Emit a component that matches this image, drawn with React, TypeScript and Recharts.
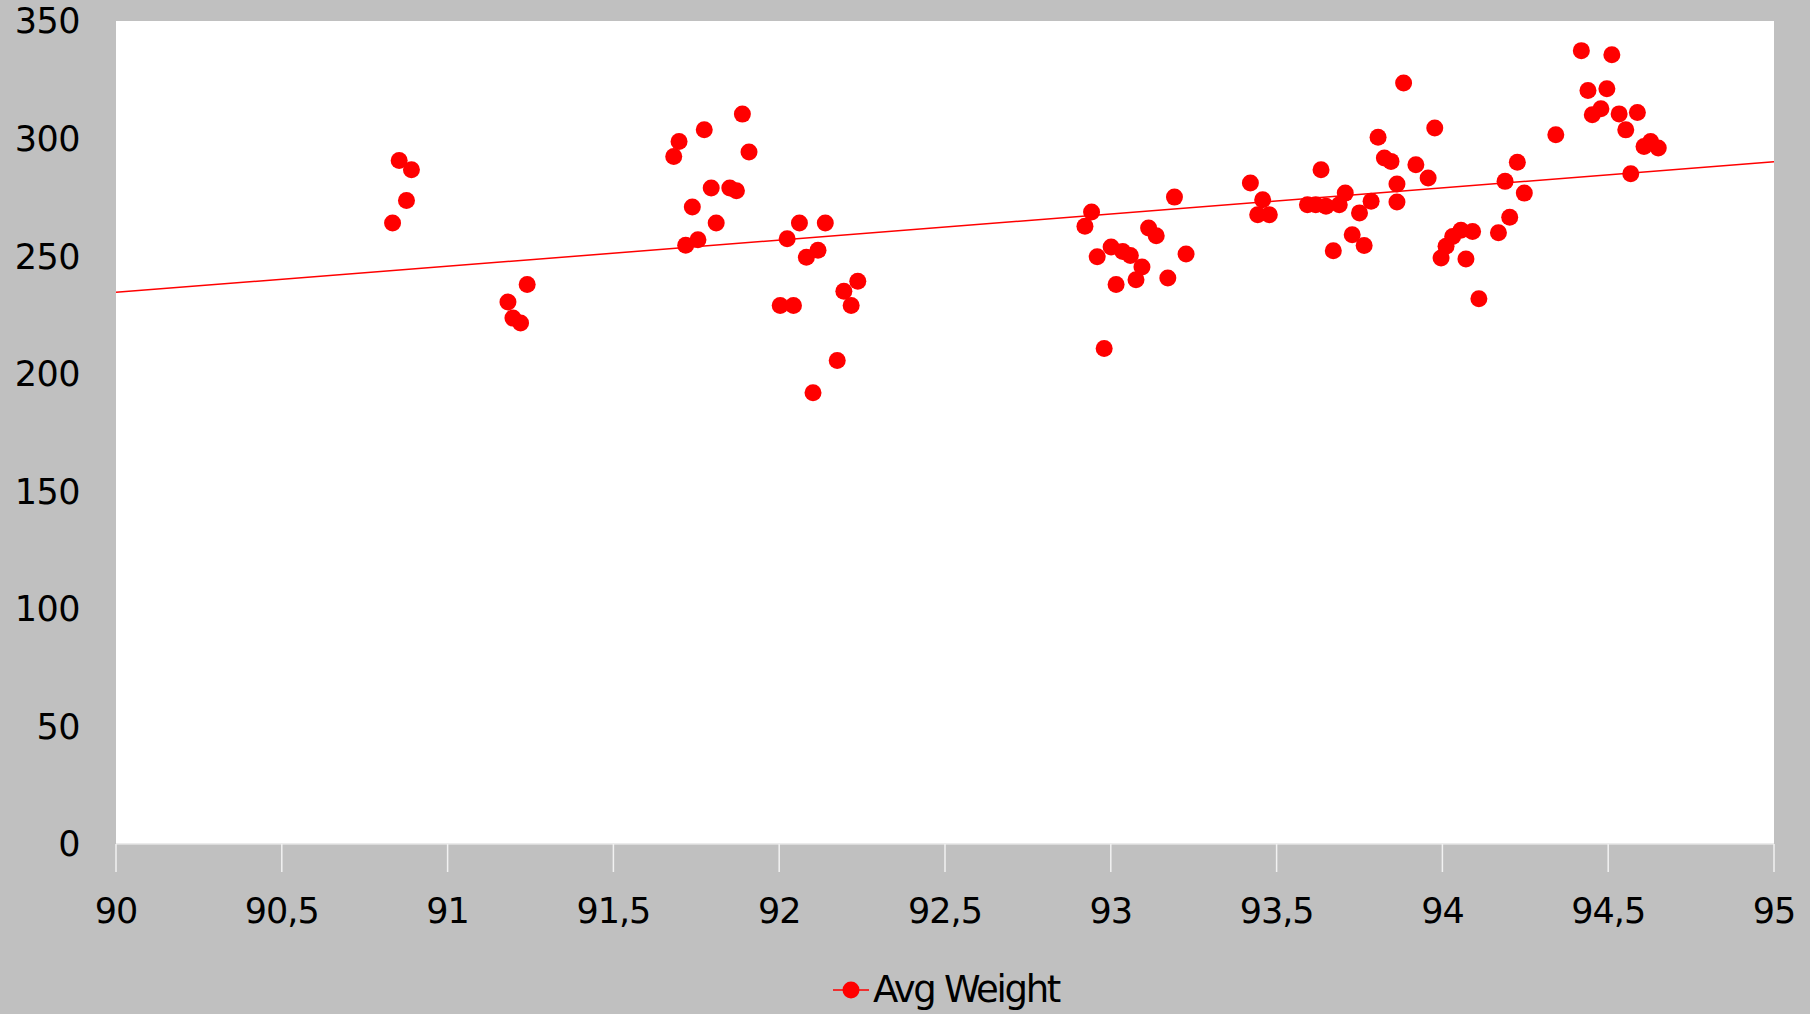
import React from "react";
import {
  CartesianGrid,
  Legend,
  Scatter,
  ScatterChart,
  XAxis,
  YAxis,
} from "recharts";

// Avg Weight samples
const weightX = [
  90.854, 90.891, 90.876, 90.834,
  91.182, 91.197, 91.22, 91.24,
  91.682, 91.698, 91.718, 91.738, 91.755, 91.774, 91.795, 91.81, 91.851, 91.871, 91.889, 91.909,
  92.003, 92.024, 92.043, 92.061, 92.082, 92.102, 92.117, 92.139, 92.175, 92.195, 92.217, 92.237,
  92.922, 92.942, 92.959, 92.98, 93.001, 93.016, 93.036, 93.059, 93.076, 93.094, 93.114, 93.137, 93.172, 93.192, 93.227,
  93.421, 93.443, 93.458, 93.478, 93.593, 93.618, 93.634, 93.649, 93.671, 93.689, 93.707, 93.728,
  93.75, 93.764, 93.785, 93.806, 93.825, 93.845, 93.863, 93.863, 93.883, 93.92, 93.957, 93.977,
  93.996, 94.011, 94.031, 94.056, 94.071, 94.091, 94.11, 94.169, 94.189, 94.203, 94.226, 94.247,
  94.342, 94.419, 94.439, 94.452, 94.478, 94.496, 94.511, 94.533, 94.553, 94.568, 94.588, 94.608, 94.628, 94.651,
];
const weightY = [
  290.7, 286.7, 273.7, 264.1,
  230.5, 223.7, 221.6, 237.9,
  292.4, 298.8, 254.6, 270.9, 257.0, 303.8, 279.0, 264.1, 279.0, 277.8, 310.4, 294.3,
  229.0, 257.4, 229.0, 264.1, 249.5, 191.9, 252.5, 264.1, 205.6, 235.1, 229.0, 239.3,
  262.7, 268.8, 249.7, 210.7, 253.9, 237.9, 252.0, 250.3, 240.0, 245.4, 262.0, 258.7, 240.7, 275.1, 250.9,
  281.1, 267.6, 274.0, 267.6, 271.9, 271.9, 286.7, 271.2, 252.3, 271.9, 276.8, 259.1,
  268.4, 254.5, 273.3, 300.6, 291.7, 290.3, 280.7, 273.0, 323.6, 288.9, 283.2, 304.5,
  249.2, 254.2, 258.4, 261.0, 248.8, 260.5, 231.9, 259.9, 281.8, 266.5, 289.9, 276.8,
  301.6, 337.4, 320.4, 310.1, 312.7, 321.2, 335.6, 310.5, 303.7, 285.0, 311.1, 296.6, 298.8, 296.0,
];

// linear trend line end points
const trendX = [90, 95];
const trendY = [234.6, 290.1];

const xTicks = [90, 90.5, 91, 91.5, 92, 92.5, 93, 93.5, 94, 94.5, 95];
const yTicks = [0, 50, 100, 150, 200, 250, 300, 350];

const RED = "#ff0000";
const FONT = "'DejaVu Sans', Verdana, sans-serif";

const points = weightX.map((x, i) => ({ x, y: weightY[i] }));
const trend = trendX.map((x, i) => ({ x, y: trendY[i] }));

function Dot(props: { cx?: number; cy?: number }) {
  if (props.cx == null || props.cy == null) return <g />;
  return <circle cx={props.cx} cy={props.cy} r={8.5} fill={RED} />;
}

function NoDot() {
  return <g />;
}

function LegendBox() {
  return (
    <div
      style={{
        display: "flex",
        justifyContent: "center",
        alignItems: "center",
        fontFamily: FONT,
        fontSize: 37,
        letterSpacing: -2.3,
        color: "#000",
      }}
    >
      <svg width={40} height={24} style={{ marginRight: 2 }}>
        <line x1={2} y1={12} x2={38} y2={12} stroke={RED} strokeWidth={1.5} />
        <circle cx={20} cy={12} r={8.5} fill={RED} />
      </svg>
      Avg Weight
    </div>
  );
}

export default function App() {
  return (
    <div
      style={{
        position: "absolute",
        left: 0,
        top: 0,
        width: 1810,
        height: 1014,
        background: "#c0c0c0",
      }}
    >
      <ScatterChart
        width={1810}
        height={1014}
        margin={{ top: 21, right: 36, bottom: 0, left: 0 }}
      >
        <CartesianGrid horizontal={false} vertical={false} fill="#ffffff" fillOpacity={1} stroke="none" />
        <XAxis
          type="number"
          dataKey="x"
          domain={[90, 95]}
          ticks={xTicks}
          interval={0}
          height={170}
          allowDataOverflow
          tickFormatter={(v: number) => String(v).replace(".", ",")}
          axisLine={{ stroke: "#e4e4e4", strokeWidth: 1.5 }}
          tickLine={{ stroke: "#f2f2f2", strokeWidth: 1.5 }}
          tickSize={28}
          tickMargin={26}
          tick={{ fontSize: 35, fill: "#000", fontFamily: FONT, letterSpacing: -1 }}
        />
        <YAxis
          type="number"
          dataKey="y"
          domain={[0, 350]}
          ticks={yTicks}
          interval={0}
          width={116}
          allowDataOverflow
          axisLine={false}
          tickLine={false}
          tickSize={0}
          tickMargin={36}
          tick={{ fontSize: 35, fill: "#000", fontFamily: FONT, letterSpacing: -0.5 }}
        />
        <Scatter
          name="trend"
          data={trend}
          line={{ stroke: RED, strokeWidth: 1.5 }}
          shape={<NoDot />}
          legendType="none"
          isAnimationActive={false}
        />
        <Scatter
          name="Avg Weight"
          data={points}
          fill={RED}
          shape={<Dot />}
          isAnimationActive={false}
        />
        <Legend
          layout="horizontal"
          verticalAlign="middle"
          align="center"
          content={<LegendBox />}
          wrapperStyle={{ top: 968, left: 40, width: 1810 }}
        />
      </ScatterChart>
    </div>
  );
}
